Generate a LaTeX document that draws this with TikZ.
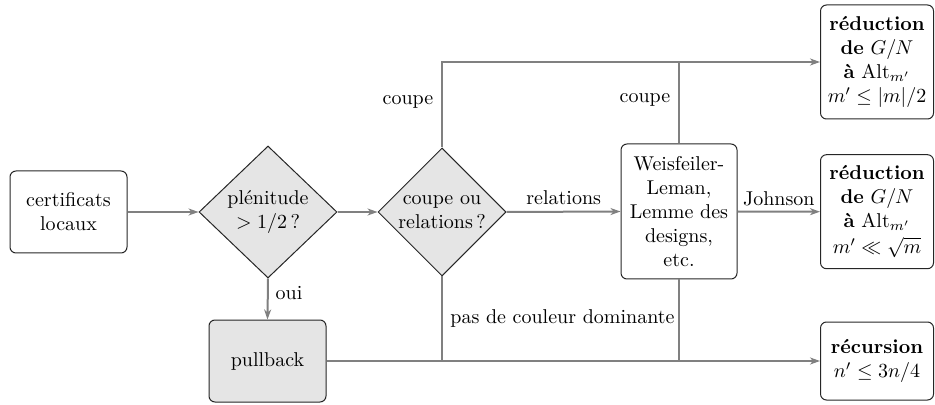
\documentclass[tikz,border=0pt]{standalone}
\usetikzlibrary{shapes.geometric,arrows.meta}
\begin{document}
\begin{tikzpicture}[x=0.5pt,y=-0.5pt,
  box/.style={draw=black!85,line width=0.5pt,rounded corners=3pt,align=center,inner sep=2pt},
  dia/.style={draw=black!85,line width=0.5pt,shape=diamond,fill=black!10,align=center,inner sep=-2pt},
  conn/.style={draw=black!50,line width=1pt},
  arr/.style={conn,-{Stealth[length=5pt,width=3.5pt,inset=1.5pt]}},
  lbl/.style={inner sep=0pt}]
\useasboundingbox (0,0) rectangle (935,405);
\node[box,minimum width=58.5pt,minimum height=41pt] (cert) at (68.5,212) {certificats\\locaux};
\node[dia,minimum width=69pt,minimum height=66pt] (d1) at (268,212) {plénitude\\$>1/2$\,?};
\node[box,fill=black!10,minimum width=58.5pt,minimum height=41pt] (pb) at (267.5,361) {pullback};
\node[dia,minimum width=64pt,minimum height=64pt] (d2) at (442,212) {coupe ou\\relations\,?};
\node[box,minimum width=58pt,minimum height=67.5pt] (wl) at (679,211.5) {Weisfeiler-\\Leman,\\Lemme des\\designs,\\etc.};
\node[box,minimum width=56.5pt,minimum height=57pt] (r1) at (877,62) {\textbf{réduction}\\\textbf{de} $G/N$\\\textbf{à} $\mathrm{Alt}_{m'}$\\$m'\le|m|/2$};
\node[box,minimum width=56.5pt,minimum height=57pt] (r2) at (877,211.7) {\textbf{réduction}\\\textbf{de} $G/N$\\\textbf{à} $\mathrm{Alt}_{m'}$\\[1pt]$m'\ll\sqrt{m}$};
\node[box,minimum width=56.5pt,minimum height=39pt] (r3) at (877,361) {\textbf{récursion}\\$n'\le 3n/4$};
\draw[arr] (cert.east) -- (d1.west);
\draw[arr] (d1.east) -- (d2.west);
\draw[arr] (d1.south) -- (pb.north);
\draw[arr] (d2.east) -- (wl.west);
\draw[arr] (wl.east) -- (r2.west);
\draw[arr] (d2.north) |- (r1.west);
\draw[conn] (wl.north) -- (wl.north |- r1.west);
\draw[arr] (pb.east) -- (r3.west);
\draw[conn] (d2.south) -- (d2.south |- r3.west);
\draw[conn] (wl.south) -- (wl.south |- r3.west);
\node[lbl] (loui) at (289,293) {oui};
\node[lbl] (lc1) at (408,101.7) {coupe};
\node[lbl] (lc2) at (645,100) {coupe};
\node[lbl] (lrel) at (563.7,198) {relations};
\node[lbl] (ljo) at (778.8,199) {Johnson};
\node[lbl,anchor=west] (lpas) at (450,318) {pas de couleur dominante};
\end{tikzpicture}
\end{document}
